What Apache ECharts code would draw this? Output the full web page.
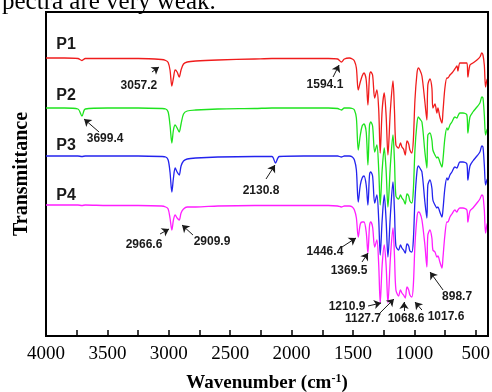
<!DOCTYPE html>
<html>
<head>
<meta charset="utf-8">
<script src="https://cdn.jsdelivr.net/npm/echarts@6/dist/echarts.min.js"></script>
<style>
html, body { margin: 0; padding: 0; background: #fff; }
#main { width: 492px; height: 392px; }
</style>
</head>
<body>
<div id="main"></div>
<script>
// wavenumber grid (cm-1), shared by the four spectra
var wavenumbers = [4000,3850,3740,3707,3680,3500,3250,3060,3025,3005,
    2990,2975,2962,2948,2932,2915,2900,2880,2850,2780,
    2600,2300,2160,2131,2100,1900,1700,1625,1594,1570,
    1530,1505,1488,1472,1457,1440,1425,1410,1392,1378,
    1365,1355,1340,1323,1305,1290,1278,1262,1245,1230,
    1215,1195,1174,1162,1150,1128,1113,1101,1088,1074,
    1060,1046,1036,1020,1008,995,979,968,955,938,
    914,898,890,873,857,849,832,816,808,792,
    775,767,751,735,727,710,694,670,653,645,
    629,604,572,564,547,523,490,466,450,441,
    430,420,409,400];

// transmittance, stacked (arbitrary units)
var p1 = [278,278,277.5,275.5,277.5,277.5,277.5,276.5,275.5,273.5,
    266,250,258,266,264,259,266,272,274,275,
    276,277,277.5,277.5,277.5,277.5,277.5,277,274,277,
    278,277,275,268,246,254,260,263,256,231,
    260,264,261,238,246,226,183,226,243,221,
    181,226,255,226,191,188,193,189,187,181,
    195,192,186,183,196,236,262,268,266,260,
    234,216,251,257,248,228,232,223,228,219,
    213,224,248,258,258,261,263,267,270,265,
    273,273,273,259,271,273,276,279,283,281,
    271,249,256,258];
var p2 = [228,228,227,220,227,228,228,227.5,227,224,
    211,193,206,211,208,204,212,222,225,226,
    227,227.5,228,228,228,228,228,227.5,226,228,
    228,227.5,226,218,186,201,210,212,204,171,
    211,214,210,184,191,166,131,166,188,166,
    129,171,201,176,140,137,141,138,136,132,
    142,140,135,133,146,186,212,219,217,214,
    184,168,201,203,196,186,181,178,179,174,
    169,176,198,208,206,211,214,219,218,220,
    223,223,221,203,219,224,229,233,239,238,
    221,201,206,208];
var p3 = [180,180,180,179.5,180,180,180,179.5,179,176,
    164,144,158,168,164,161,170,175,177,178,
    179,179.5,179.5,173,179.5,180,180,180,179,180,
    180,179,176,166,134,151,158,160,151,131,
    161,164,160,133,141,116,81,116,141,116,
    79,121,154,126,90,86,91,88,86,83,
    92,90,85,84,96,136,164,170,168,164,
    134,118,151,156,148,136,131,128,129,124,
    119,126,148,158,156,161,164,169,168,170,
    174,174,172,156,170,175,180,184,190,189,
    171,151,156,158];
var p4 = [131,131,131,130.5,131,130.5,130.5,130,129,127,
    118,106,116,121,118,116,123,127,129,129,
    130,130.5,130.5,130.5,130.5,130.5,130.5,130,129,130,
    130,129,126,118,99,112,114,114,104,83,
    110,114,109,89,96,71,33,71,91,71,
    33,78,108,81,46,40,46,43,41,38,
    49,46,41,39,51,91,118,124,123,116,
    91,69,101,106,98,86,84,79,80,74,
    68,78,101,114,114,119,122,126,124,126,
    128,128,126,114,125,128,133,137,141,140,
    126,103,111,114];

var seriesNames = ['P1', 'P2', 'P3', 'P4'];
var majorTicks = [4000, 3500, 3000, 2500, 2000, 1500, 1000, 500];
var minorTicks = [3750, 3250, 2750, 2250, 1750, 1250, 750];

// peak notes: series index, text, text centre, arrow start, arrow end (data coords)
var notes = [
    [0, '3057.2', [3243, 250], [3137, 264], [3080, 269]],
    [0, '1594.1', [1728, 251], [1662, 259], [1613, 271]],
    [1, '3699.4', [3519, 197], [3568, 204], [3690, 217]],
    [2, '2130.8', [2249, 145], [2208, 157], [2135, 171]],
    [3, '2966.6', [3202, 91], [3071, 102], [2998, 107]],
    [3, '2909.9', [2648, 94], [2803, 101], [2892, 111]],
    [3, '1446.4', [1728, 84], [1589, 89], [1475, 98]],
    [3, '1369.5', [1532, 65], [1426, 74], [1377, 83]],
    [3, '1210.9', [1548, 29], [1377, 30], [1271, 33]],
    [3, '1127.7', [1418, 17], [1280, 23], [1166, 37]],
    [3, '1068.6', [1068, 17], [1084, 25], [1084, 34]],
    [3, '1017.6', [742, 19], [938, 26], [995, 34]],
    [3, '898.7', [652, 39], [766, 46], [872, 64]]
];
var tagPos = [[3837, 291], [3837, 240], [3837, 190], [3837, 140]];

var xMin = 400, xMax = 4000, yMin = 0, yMax = 324;

var myChart = echarts.init(document.getElementById('main'));

var colors = ['#f01c1c', '#1ee31e', '#2323ee', '#ff1eff'];
var values = [p1, p2, p3, p4];

var series = values.map(function (v, i) {
    var pts = [];
    for (var k = 0; k < wavenumbers.length; k++) {
        pts.push([wavenumbers[k], v[k]]);
    }
    var marks = [{
        name: seriesNames[i],
        coord: tagPos[i],
        label: { fontSize: 16 }
    }];
    var arrows = [];
    notes.forEach(function (n) {
        if (n[0] !== i) return;
        marks.push({ name: n[1], coord: n[2], label: { fontSize: 12 } });
        arrows.push([{ coord: n[3] }, { coord: n[4] }]);
    });
    if (i === 0) {
        // top and right sides of the frame
        var frame = { color: '#000', width: 2 };
        arrows.push([{ coord: [xMax, yMax], symbol: 'none', lineStyle: frame }, { coord: [xMin, yMax], symbol: 'none' }]);
        arrows.push([{ coord: [xMin, yMin], symbol: 'none', lineStyle: frame }, { coord: [xMin, yMax], symbol: 'none' }]);
    }
    return {
        name: seriesNames[i],
        type: 'line',
        data: pts,
        showSymbol: false,
        smooth: 0.3,
        clip: false,
        lineStyle: { color: colors[i], width: 1.3 },
        itemStyle: { color: colors[i] },
        markPoint: {
            silent: true,
            symbol: 'rect',
            symbolSize: 1,
            itemStyle: { color: 'transparent' },
            label: {
                show: true,
                position: 'inside',
                formatter: '{b}',
                color: '#1a1a1a',
                fontWeight: 'bold',
                fontFamily: 'Liberation Sans'
            },
            data: marks
        },
        markLine: {
            silent: true,
            symbol: ['none', 'arrow'],
            symbolSize: 7,
            label: { show: false },
            lineStyle: { color: '#1a1a1a', width: 1, type: 'solid' },
            data: arrows
        }
    };
});

var allTicks = majorTicks.concat(minorTicks);

var option = {
    animation: false,
    backgroundColor: '#fff',
    grid: {
        left: 46, right: 4, top: 12, bottom: 56,
        outerBoundsMode: 'none',
        containLabel: false,
        show: true,
        backgroundColor: 'transparent',
        borderColor: '#000',
        borderWidth: 2
    },
    graphic: [{
        type: 'text', left: 2, top: -10, z: -10,
        style: { text: 'pectra are very weak.', font: '25px "Liberation Serif"', fill: '#000' }
    }],
    xAxis: [{
        type: 'value', min: xMin, max: xMax, inverse: true, position: 'bottom',
        axisLine: { show: true, onZero: false, lineStyle: { color: '#000', width: 2 } },
        axisTick: { show: true, inside: true, length: 6, customValues: allTicks, lineStyle: { color: '#000', width: 1.5 } },
        axisLabel: {
            customValues: majorTicks, margin: 9, color: '#000', fontSize: 19, fontFamily: 'Liberation Serif',
            formatter: function (v) { return String(v); }
        },
        splitLine: { show: false },
        name: 'Wavenumber (cm{sup|-1})',
        nameLocation: 'middle',
        nameGap: 37,
        nameTextStyle: {
            color: '#000', fontSize: 19, fontWeight: 'bold', fontFamily: 'Liberation Serif',
            rich: { sup: { fontSize: 12, fontWeight: 'bold', fontFamily: 'Liberation Serif', verticalAlign: 'top', padding: [0, 0, 8, 0] } }
        }
    }],
    yAxis: [{
        type: 'value', min: yMin, max: yMax, position: 'left',
        axisLine: { show: true, onZero: false, lineStyle: { color: '#000', width: 2 } },
        axisTick: { show: false },
        axisLabel: { show: false },
        splitLine: { show: false },
        name: 'Transmittance',
        nameLocation: 'middle',
        nameGap: 14,
        nameTextStyle: { color: '#000', fontSize: 20, fontWeight: 'bold', fontFamily: 'Liberation Serif' }
    }],
    series: series
};

myChart.setOption(option);
</script>
</body>
</html>
